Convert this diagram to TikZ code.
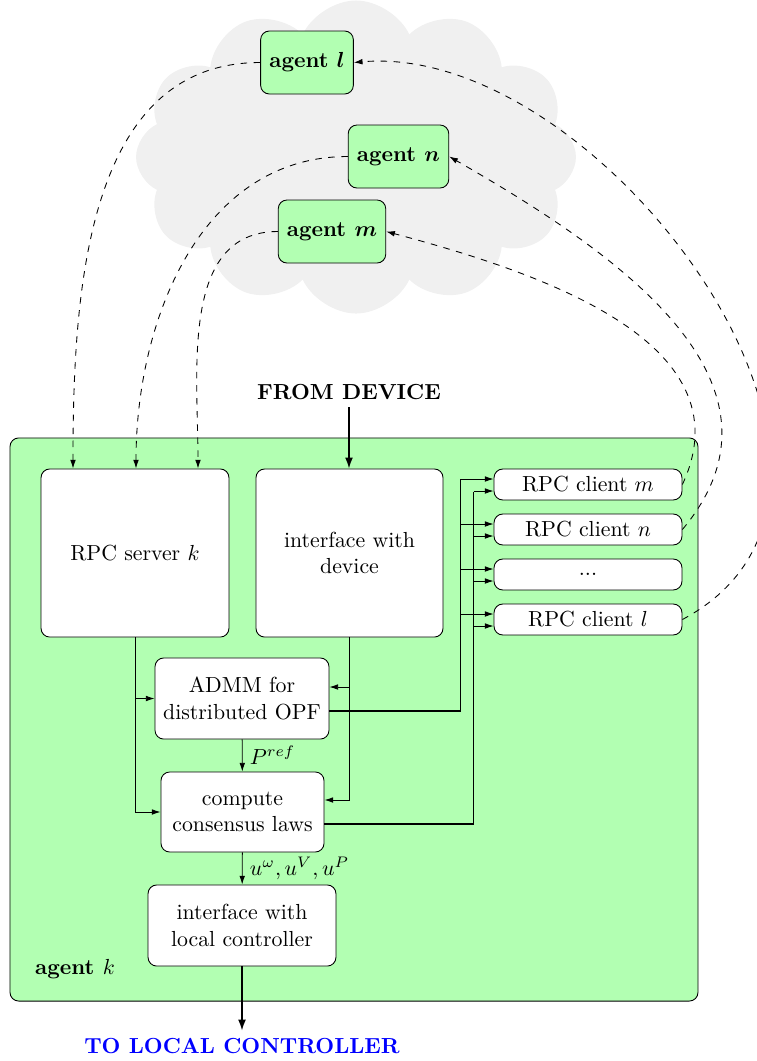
\documentclass[tikz,border=0pt]{standalone}
\usepackage{amsmath,bm}
\usetikzlibrary{shapes.symbols,arrows.meta,calc}
\begin{document}
\begin{tikzpicture}[x=0.4587pt,y=0.4587pt,
  box/.style={draw, rounded corners=4pt, fill=white, align=center, inner sep=3pt},
  agentbox/.style={draw, rounded corners=4pt, fill=green!30, minimum height=28.9pt, inner xsep=4pt, font=\bfseries},
  arr/.style={-{Latex[length=4pt,width=2.6pt]}},
  darr/.style={dashed, -{Latex[length=4pt,width=2.6pt]}},
  bus/.style={line width=0.7pt},
  bigarr/.style={line width=0.7pt, -{Latex[length=5pt,width=3.6pt]}}]
\useasboundingbox (0,0) rectangle (756,-1061);
% cloud
\node[cloud, cloud puffs=12, cloud puff arc=130, fill=gray!12, minimum width=201.8pt, minimum height=143.6pt] (cloud) at (356,-157) {};
% big agent k box
\node[draw, rounded corners=4pt, fill=green!30, minimum width=315.6pt, minimum height=258.3pt] (agk) at (354,-719.5) {};
\node[font=\bfseries] (agklabel) at (75,-969) {agent $k$};
% inner boxes
\node[box, minimum width=86.2pt, minimum height=77.1pt] (srv) at (135,-553) {RPC server $k$};
\node[box, minimum width=85.8pt, minimum height=77.1pt] (dev) at (349.5,-553) {interface with\\device};
\node[box, minimum width=86.2pt, minimum height=14.2pt, inner ysep=1pt] (cm) at (588,-484.5) {RPC client $m$};
\node[box, minimum width=86.2pt, minimum height=14.2pt, inner ysep=1pt] (cn) at (588,-529.5) {RPC client $n$};
\node[box, minimum width=86.2pt, minimum height=14.2pt, inner ysep=1pt] (cd) at (588,-574.5) {...};
\node[box, minimum width=86.2pt, minimum height=14.2pt, inner ysep=1pt] (cl) at (588,-619.5) {RPC client $l$};
\node[box, minimum width=79.8pt, minimum height=37.2pt] (admm) at (242,-698.5) {ADMM for\\distributed OPF};
\node[box, minimum width=74.8pt, minimum height=36.7pt] (comp) at (242.5,-812) {compute\\consensus laws};
\node[box, minimum width=86.2pt, minimum height=37.2pt] (loc) at (242,-925.5) {interface with\\local controller};
\node[font=\bfseries] (from) at (349,-392) {FROM DEVICE};
\node[font=\bfseries, text=blue] (to) at (242,-1046) {TO LOCAL CONTROLLER};
% internal connections
\draw[bigarr] (from) -- (from|-dev.north);
\draw[bigarr] (loc) -- (to);
\draw[arr] (srv.south) |- (admm.west);
\draw[arr] (srv.south) |- (comp.west);
\draw[arr] (dev.south) |- ($(admm.east)+(0,11.5)$);
\draw[arr] (dev.south) |- ($(comp.east)+(0,12)$);
\draw[arr] (admm) -- node[right] {$P^{ref}$} (comp);
\draw[arr] (comp) -- node[right] {$u^\omega, u^V, u^P$} (loc);
\draw[bus] ($(admm.east)+(0,-12.5)$) -| ($(cm.west)+(-33,5.5)$);
\draw[bus] ($(comp.east)+(0,-12)$) -| ($(cm.west)+(-20,-7)$);
\foreach \c in {cm,cn,cd,cl}{
  \draw[arr] ($(\c.west)+(-33,5.5)$) -- ($(\c.west)+(0,5.5)$);
  \draw[arr] ($(\c.west)+(-20,-6.5)$) -- ($(\c.west)+(0,-6.5)$);
}
% agents
\node[agentbox] (al) at (307,-62.5) {agent $\bm{l}$};
\node[agentbox] (an) at (398.5,-156.5) {agent $\bm{n}$};
\node[agentbox] (am) at (332,-231.5) {agent $\bm{m}$};
% dashed communication
\draw[darr] (cm.east) .. controls +(65:160) and +(-15:150) .. (am.east);
\draw[darr] (cn.east) .. controls +(50:200) and +(-30:170) .. (an.east);
\draw[darr] (cl.east) .. controls +(28:280) and +(5:250) .. (al.east);
\draw[darr] (al.west) to[out=180,in=90] ($(srv.north)+(-62,0)$);
\draw[darr] (an.west) to[out=180,in=90] ($(srv.north)+(1,0)$);
\draw[darr] (am.west) to[out=180,in=90] ($(srv.north)+(63,0)$);
\end{tikzpicture}
\end{document}
